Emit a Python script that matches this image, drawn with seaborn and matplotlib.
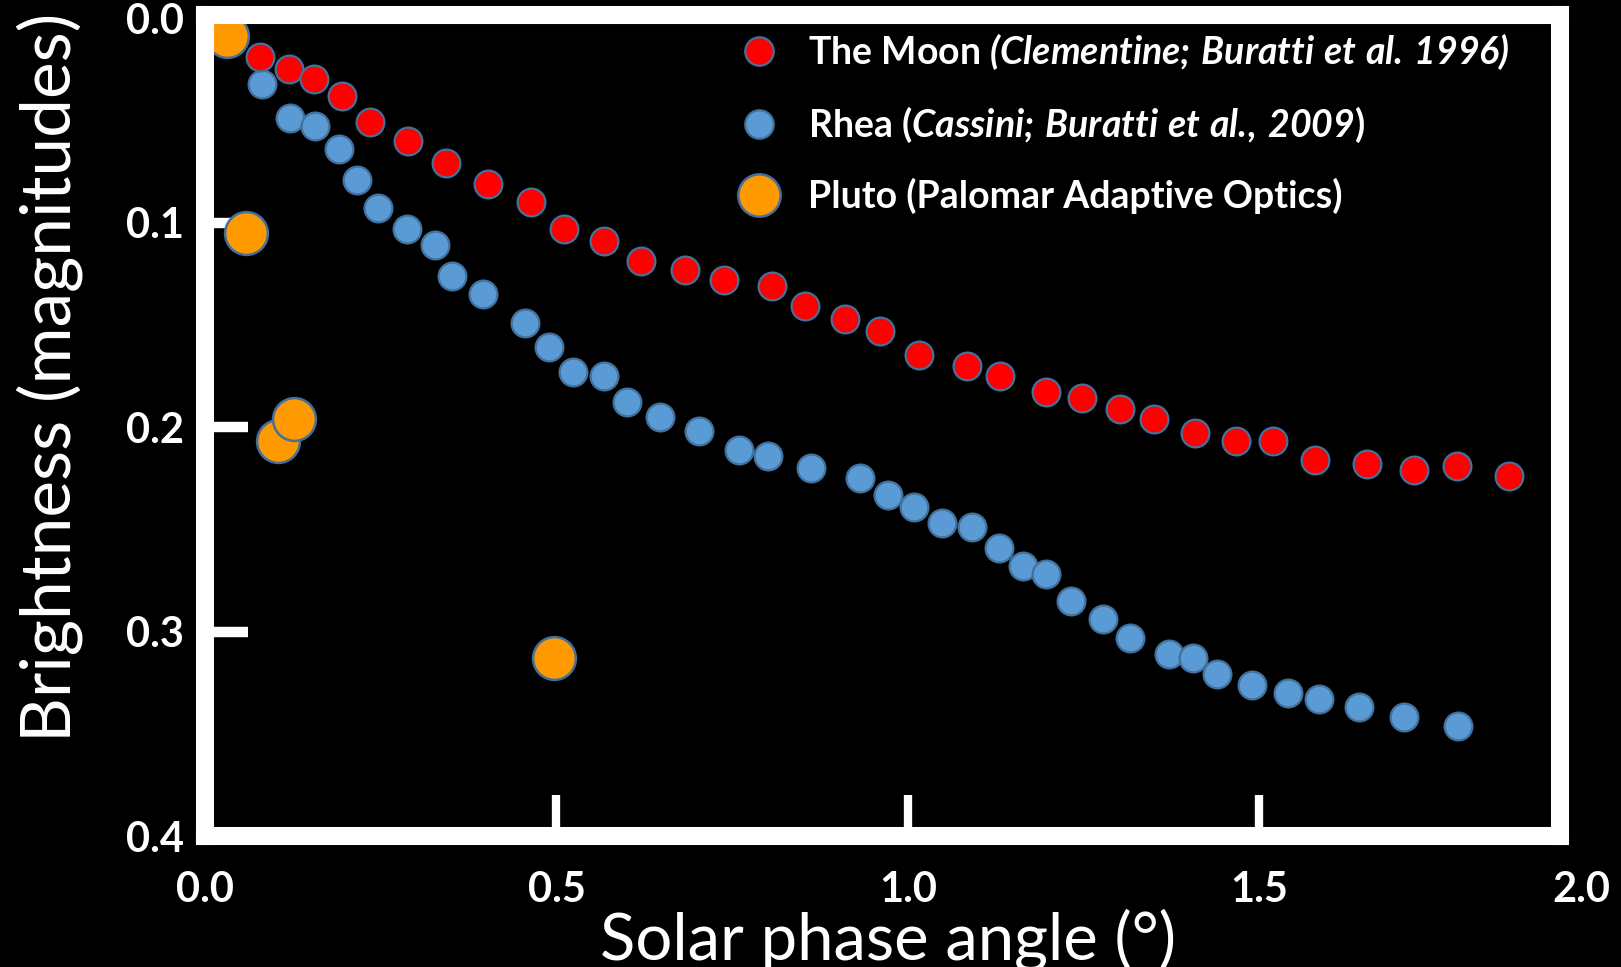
import matplotlib
matplotlib.use("Agg")
import matplotlib.pyplot as plt
from matplotlib.lines import Line2D
import seaborn as sns

# Solar phase curves (phase angle in degrees, brightness in magnitudes)
moon_phase = [0.078, 0.120, 0.155, 0.195, 0.235, 0.289, 0.343, 0.403, 0.464, 0.511,
              0.567, 0.620, 0.683, 0.738, 0.806, 0.854, 0.910, 0.960, 1.016, 1.084,
              1.131, 1.197, 1.247, 1.302, 1.350, 1.408, 1.467, 1.519, 1.579, 1.653,
              1.720, 1.781, 1.855]
moon_mag = [0.019, 0.025, 0.030, 0.038, 0.051, 0.060, 0.071, 0.081, 0.090, 0.103,
            0.109, 0.119, 0.123, 0.128, 0.131, 0.141, 0.147, 0.153, 0.165, 0.170,
            0.175, 0.183, 0.186, 0.191, 0.196, 0.203, 0.207, 0.207, 0.216, 0.218,
            0.221, 0.219, 0.224]

rhea_phase = [0.081, 0.121, 0.156, 0.190, 0.216, 0.246, 0.287, 0.327, 0.352, 0.395,
              0.455, 0.489, 0.524, 0.567, 0.601, 0.647, 0.703, 0.759, 0.801, 0.862,
              0.932, 0.971, 1.009, 1.049, 1.091, 1.129, 1.163, 1.197, 1.232, 1.277,
              1.316, 1.371, 1.405, 1.439, 1.489, 1.540, 1.585, 1.642, 1.706, 1.783]
rhea_mag = [0.032, 0.049, 0.053, 0.064, 0.079, 0.093, 0.103, 0.111, 0.126, 0.135,
            0.149, 0.161, 0.173, 0.175, 0.188, 0.195, 0.202, 0.211, 0.214, 0.220,
            0.225, 0.233, 0.239, 0.247, 0.249, 0.259, 0.268, 0.272, 0.285, 0.294,
            0.303, 0.311, 0.313, 0.321, 0.326, 0.330, 0.333, 0.337, 0.342, 0.346]

pluto_phase = [0.032, 0.058, 0.104, 0.127, 0.496]
pluto_mag = [0.009, 0.105, 0.207, 0.196, 0.313]

x_ticks = [0.0, 0.5, 1.0, 1.5]
x_end_label = 2.0
y_ticks = [0.0, 0.1, 0.2, 0.3, 0.4]

series_labels = [
    r"The Moon $\mathit{(Clementine;\,Buratti\ et\ al.\,1996)}$",
    r"Rhea ($\mathit{Cassini;\,Buratti\ et\ al.\!,\,2009}$)",
    "Pluto (Palomar Adaptive Optics)",
]

MOON_RED = "#FF0000"
RHEA_BLUE = "#5B9BD5"
PLUTO_ORANGE = "#FF9900"
EDGE_BLUE = "#41719C"

sns.set_theme(style="dark")
plt.rcParams.update({
    "font.family": ["Lato", "DejaVu Sans"],
    "mathtext.fontset": "custom",
    "mathtext.rm": "Lato:italic:bold",
    "mathtext.it": "Lato:italic:bold",
    "mathtext.bf": "Lato:bold",
    "axes.grid": False,
})

W, H = 1621, 967
fig = plt.figure(figsize=(W / 100, H / 100), dpi=100, facecolor="black")
left, right, top, bottom = 205, 1560, 15, 836
ax = fig.add_axes([left / W, (H - bottom) / H, (right - left) / W, (bottom - top) / H])
ax.set_facecolor("black")
ax.grid(False)

sns.scatterplot(x=rhea_phase, y=rhea_mag, ax=ax, s=400, color=RHEA_BLUE,
                edgecolor=EDGE_BLUE, linewidth=1.6, zorder=3, legend=False)
sns.scatterplot(x=moon_phase, y=moon_mag, ax=ax, s=400, color=MOON_RED,
                edgecolor=EDGE_BLUE, linewidth=1.6, zorder=4, legend=False)
sns.scatterplot(x=pluto_phase, y=pluto_mag, ax=ax, s=950, color=PLUTO_ORANGE,
                edgecolor=EDGE_BLUE, linewidth=1.8, zorder=5, legend=False)

ax.set_xlim(0.0, 1.9275)
ax.set_ylim(0.4, -0.0015)

# heavy white frame
for side in ("left", "right", "top", "bottom"):
    sp = ax.spines[side]
    sp.set_visible(True)
    sp.set_color("white")
    sp.set_linewidth(13)
    sp.set_capstyle("projecting")
    sp.set_zorder(6)

ax.set_xticks(x_ticks, labels=[f"{v:.1f}" for v in x_ticks], fontweight="bold")
ax.set_yticks(y_ticks, labels=[f"{v:.1f}" for v in y_ticks], fontweight="bold")
ax.tick_params(axis="x", direction="in", length=29.5, width=6, color="white",
               labelcolor="white", labelsize=30, pad=25, bottom=True, top=False)
ax.tick_params(axis="y", direction="in", length=31, width=7.5, color="white",
               labelcolor="white", labelsize=30, pad=15, left=True, right=False)
for tick, val in zip(ax.xaxis.get_major_ticks(), x_ticks):
    if val == 0.0:
        tick.tick1line.set_visible(False)
for tick, val in zip(ax.yaxis.get_major_ticks(), y_ticks):
    if val in (0.0, 0.4):
        tick.tick1line.set_visible(False)

# the 2.0 label sits just past the frame
ax.annotate(f"{x_end_label:.1f}", xy=(x_end_label, 0), xycoords=("data", "axes fraction"),
            xytext=(-21, -25), textcoords="offset points", ha="center", va="top",
            color="white", fontsize=30, fontweight="bold", annotation_clip=False)

ax.set_xlabel("Solar phase angle (°)", color="white", fontsize=47)
ax.set_ylabel("Brightness (magnitudes)", color="white", fontsize=50)
ax.xaxis.set_label_coords(0.504, -0.088)
ax.yaxis.set_label_coords(-0.090, 0.559)

handles = [
    Line2D([], [], ls="", marker="o", markersize=20.5, markerfacecolor=MOON_RED,
           markeredgecolor=EDGE_BLUE, markeredgewidth=1.6),
    Line2D([], [], ls="", marker="o", markersize=20.5, markerfacecolor=RHEA_BLUE,
           markeredgecolor=EDGE_BLUE, markeredgewidth=1.6),
    Line2D([], [], ls="", marker="o", markersize=30.5, markerfacecolor=PLUTO_ORANGE,
           markeredgecolor=EDGE_BLUE, markeredgewidth=1.8),
]
leg = ax.legend(handles, series_labels, loc="upper left",
                bbox_to_anchor=(741 / W, 1 - 31 / H), bbox_transform=fig.transFigure,
                frameon=False, prop={"family": "Lato", "weight": "bold", "size": 27},
                handlelength=0.95, handletextpad=0.85, labelspacing=0.88,
                borderpad=0, borderaxespad=0)
for t in leg.get_texts():
    t.set_color("white")

fig.savefig("out.png", dpi=100, facecolor="black")
